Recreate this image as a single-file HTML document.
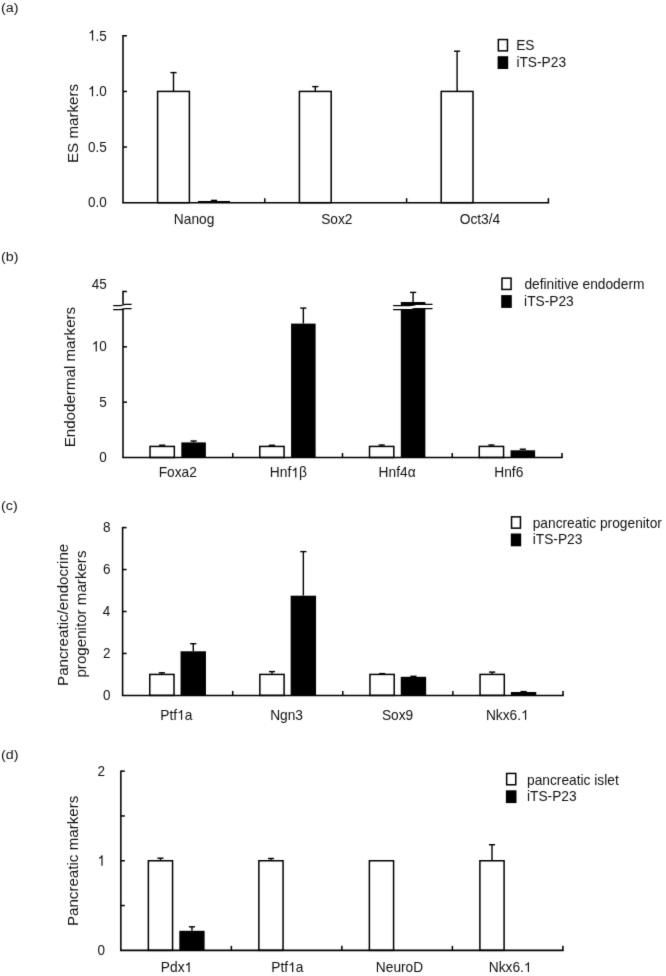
<!DOCTYPE html>
<html><head><meta charset="utf-8"><style>
html,body{margin:0;padding:0;background:#fff;}
svg{display:block;}
#w{will-change:transform;width:666px;height:976px;}
text{font-family:"Liberation Sans", sans-serif;fill:#111;}
line{stroke-linecap:butt;}
</style></head><body>
<div id="w"><svg width="666" height="976" viewBox="0 0 666 976">
<defs><filter id="soft" x="0" y="0" width="666" height="976" filterUnits="userSpaceOnUse" color-interpolation-filters="sRGB"><feConvolveMatrix order="3" kernelMatrix="0.0100 0.0800 0.0100 0.0800 0.6400 0.0800 0.0100 0.0800 0.0100" edgeMode="duplicate"/></filter></defs>
<g filter="url(#soft)"><rect width="666" height="976" fill="#fff"/>
<rect x="157.60" y="91.42" width="31.80" height="111.25" fill="#fff" stroke="#000" stroke-width="1.5"/>
<line x1="173.50" y1="91.42" x2="173.50" y2="72.60" stroke="#000" stroke-width="1.4"/>
<line x1="170.40" y1="72.60" x2="176.60" y2="72.60" stroke="#000" stroke-width="1.4"/>
<rect x="198.00" y="201.00" width="32.00" height="1.67" fill="#000"/>
<line x1="214.00" y1="201.00" x2="214.00" y2="200.40" stroke="#000" stroke-width="1.4"/>
<line x1="210.90" y1="200.40" x2="217.10" y2="200.40" stroke="#000" stroke-width="1.4"/>
<g transform="translate(173.82,224.00)"><text x="0" y="0" font-size="13.75">Nanog</text></g>
<rect x="299.40" y="91.42" width="31.80" height="111.25" fill="#fff" stroke="#000" stroke-width="1.5"/>
<line x1="315.30" y1="91.42" x2="315.30" y2="86.60" stroke="#000" stroke-width="1.4"/>
<line x1="312.20" y1="86.60" x2="318.40" y2="86.60" stroke="#000" stroke-width="1.4"/>
<g transform="translate(321.16,224.00)"><text x="0" y="0" font-size="13.75">Sox2</text></g>
<rect x="441.20" y="91.42" width="31.80" height="111.25" fill="#fff" stroke="#000" stroke-width="1.5"/>
<line x1="457.10" y1="91.42" x2="457.10" y2="51.20" stroke="#000" stroke-width="1.4"/>
<line x1="454.00" y1="51.20" x2="460.20" y2="51.20" stroke="#000" stroke-width="1.4"/>
<g transform="translate(459.72,224.00)"><text x="0" y="0" font-size="13.75">Oct3/4</text></g>
<line x1="123.00" y1="35.04" x2="123.00" y2="202.67" stroke="#000" stroke-width="1.55"/>
<line x1="122.22" y1="202.67" x2="549.17" y2="202.67" stroke="#000" stroke-width="1.55"/>
<line x1="264.80" y1="202.67" x2="264.80" y2="198.17" stroke="#000" stroke-width="1.5"/>
<line x1="406.60" y1="202.67" x2="406.60" y2="198.17" stroke="#000" stroke-width="1.5"/>
<line x1="548.40" y1="202.67" x2="548.40" y2="198.17" stroke="#000" stroke-width="1.55"/>
<line x1="123.00" y1="147.04" x2="127.00" y2="147.04" stroke="#000" stroke-width="1.5"/>
<line x1="123.00" y1="91.42" x2="127.00" y2="91.42" stroke="#000" stroke-width="1.5"/>
<line x1="123.00" y1="35.79" x2="127.00" y2="35.79" stroke="#000" stroke-width="1.5"/>
<g transform="translate(88.10,40.52) scale(1,1.08)"><text x="0" y="0" font-size="13.5"> .5</text><path d="M763,0 L583,0 L583,1147 Q470,1030 223,934 L223,1108 Q470,1230 643,1466 L763,1466 Z" transform="translate(0.000,0) scale(0.00659,-0.00659)" fill="#111"/></g>
<g transform="translate(88.06,96.32) scale(1,1.08)"><text x="0" y="0" font-size="13.5"> .0</text><path d="M763,0 L583,0 L583,1147 Q470,1030 223,934 L223,1108 Q470,1230 643,1466 L763,1466 Z" transform="translate(0.000,0) scale(0.00659,-0.00659)" fill="#111"/></g>
<g transform="translate(88.10,152.12) scale(1,1.08)"><text x="0" y="0" font-size="13.5">0.5</text></g>
<g transform="translate(88.06,207.32) scale(1,1.08)"><text x="0" y="0" font-size="13.5">0.0</text></g>
<g transform="translate(77.60,163.01) rotate(-90)"><text x="0" y="0" font-size="15.15">ES markers</text></g>
<rect x="498.35" y="39.55" width="9.10" height="11.30" fill="#fff" stroke="#000" stroke-width="1.5"/>
<rect x="497.60" y="56.20" width="10.60" height="12.80" fill="#000"/>
<g transform="translate(516.17,50.30)"><text x="0" y="0" font-size="13.75">ES</text></g>
<g transform="translate(516.38,67.00)"><text x="0" y="0" font-size="13.75">iTS-P23</text></g>
<g transform="translate(1.11,11.70) scale(1,0.91)"><text x="0" y="0" font-size="14.3">(a)</text></g>
<rect x="150.03" y="446.43" width="24.30" height="11.07" fill="#fff" stroke="#000" stroke-width="1.5"/>
<line x1="162.18" y1="446.43" x2="162.18" y2="445.20" stroke="#000" stroke-width="1.4"/>
<line x1="159.08" y1="445.20" x2="165.28" y2="445.20" stroke="#000" stroke-width="1.4"/>
<rect x="181.32" y="442.40" width="24.55" height="15.10" fill="#000"/>
<line x1="193.60" y1="442.40" x2="193.60" y2="441.00" stroke="#000" stroke-width="1.4"/>
<line x1="190.50" y1="441.00" x2="196.70" y2="441.00" stroke="#000" stroke-width="1.4"/>
<g transform="translate(158.65,477.40)"><text x="0" y="0" font-size="13.75">Foxa2</text></g>
<rect x="259.77" y="446.43" width="24.30" height="11.07" fill="#fff" stroke="#000" stroke-width="1.5"/>
<line x1="271.93" y1="446.43" x2="271.93" y2="445.30" stroke="#000" stroke-width="1.4"/>
<line x1="268.82" y1="445.30" x2="275.03" y2="445.30" stroke="#000" stroke-width="1.4"/>
<rect x="291.07" y="323.60" width="24.55" height="133.90" fill="#000"/>
<line x1="303.35" y1="323.60" x2="303.35" y2="308.10" stroke="#000" stroke-width="1.4"/>
<line x1="300.25" y1="308.10" x2="306.45" y2="308.10" stroke="#000" stroke-width="1.4"/>
<g transform="translate(269.86,477.40)"><text x="0" y="0" font-size="13.75">Hnf β</text><path d="M763,0 L583,0 L583,1147 Q470,1030 223,934 L223,1108 Q470,1230 643,1466 L763,1466 Z" transform="translate(21.397,0) scale(0.00671,-0.00671)" fill="#111"/></g>
<rect x="369.52" y="446.43" width="24.30" height="11.07" fill="#fff" stroke="#000" stroke-width="1.5"/>
<line x1="381.68" y1="446.43" x2="381.68" y2="445.00" stroke="#000" stroke-width="1.4"/>
<line x1="378.57" y1="445.00" x2="384.78" y2="445.00" stroke="#000" stroke-width="1.4"/>
<rect x="400.82" y="302.00" width="24.55" height="155.50" fill="#000"/>
<g transform="translate(378.61,477.40)"><text x="0" y="0" font-size="13.75">Hnf4α</text></g>
<rect x="479.27" y="446.43" width="24.30" height="11.07" fill="#fff" stroke="#000" stroke-width="1.5"/>
<line x1="491.43" y1="446.43" x2="491.43" y2="445.00" stroke="#000" stroke-width="1.4"/>
<line x1="488.32" y1="445.00" x2="494.53" y2="445.00" stroke="#000" stroke-width="1.4"/>
<rect x="510.57" y="450.30" width="24.55" height="7.20" fill="#000"/>
<line x1="522.85" y1="450.30" x2="522.85" y2="449.20" stroke="#000" stroke-width="1.4"/>
<line x1="519.75" y1="449.20" x2="525.95" y2="449.20" stroke="#000" stroke-width="1.4"/>
<g transform="translate(494.24,477.40)"><text x="0" y="0" font-size="13.75">Hnf6</text></g>
<line x1="123.00" y1="290.75" x2="123.00" y2="304.60" stroke="#000" stroke-width="1.55"/>
<line x1="123.00" y1="308.50" x2="123.00" y2="457.50" stroke="#000" stroke-width="1.55"/>
<line x1="122.22" y1="457.50" x2="562.77" y2="457.50" stroke="#000" stroke-width="1.55"/>
<line x1="232.75" y1="457.50" x2="232.75" y2="453.00" stroke="#000" stroke-width="1.5"/>
<line x1="342.50" y1="457.50" x2="342.50" y2="453.00" stroke="#000" stroke-width="1.5"/>
<line x1="452.25" y1="457.50" x2="452.25" y2="453.00" stroke="#000" stroke-width="1.5"/>
<line x1="562.00" y1="457.50" x2="562.00" y2="453.00" stroke="#000" stroke-width="1.55"/>
<line x1="123.00" y1="402.17" x2="127.00" y2="402.17" stroke="#000" stroke-width="1.5"/>
<line x1="123.00" y1="346.83" x2="127.00" y2="346.83" stroke="#000" stroke-width="1.5"/>
<line x1="123.00" y1="291.50" x2="127.00" y2="291.50" stroke="#000" stroke-width="1.5"/>
<g transform="translate(91.85,289.32) scale(1,1.08)"><text x="0" y="0" font-size="13.5">45</text></g>
<g transform="translate(91.81,351.42) scale(1,1.08)"><text x="0" y="0" font-size="13.5"> 0</text><path d="M763,0 L583,0 L583,1147 Q470,1030 223,934 L223,1108 Q470,1230 643,1466 L763,1466 Z" transform="translate(0.000,0) scale(0.00659,-0.00659)" fill="#111"/></g>
<g transform="translate(99.36,406.92) scale(1,1.08)"><text x="0" y="0" font-size="13.5">5</text></g>
<g transform="translate(99.32,462.32) scale(1,1.08)"><text x="0" y="0" font-size="13.5">0</text></g>
<g transform="translate(74.50,447.35) rotate(-90)"><text x="0" y="0" font-size="15.15">Endodermal markers</text></g>
<rect x="501.95" y="278.15" width="9.10" height="11.30" fill="#fff" stroke="#000" stroke-width="1.5"/>
<rect x="501.20" y="295.10" width="10.60" height="12.80" fill="#000"/>
<g transform="translate(524.42,289.20)"><text x="0" y="0" font-size="13.75">definitive endoderm</text></g>
<g transform="translate(524.08,305.70)"><text x="0" y="0" font-size="13.75">iTS-P23</text></g>
<g transform="translate(1.11,260.80) scale(1,0.91)"><text x="0" y="0" font-size="14.3">(b)</text></g>
<path d="M113.20,307.60 L120.30,307.60 C122.80,307.60 122.80,306.50 125.30,306.50 L131.60,306.50" fill="none" stroke="#fff" stroke-width="3.0"/>
<path d="M113.20,305.55 L120.30,305.55 C122.80,305.55 122.80,304.45 125.30,304.45 L131.60,304.45" fill="none" stroke="#000" stroke-width="1.3"/>
<path d="M113.20,309.65 L120.30,309.65 C122.80,309.65 122.80,308.55 125.30,308.55 L131.60,308.55" fill="none" stroke="#000" stroke-width="1.3"/>
<path d="M393.10,307.60 L409.60,307.60 C413.10,307.60 413.10,306.50 416.60,306.50 L432.50,306.50" fill="none" stroke="#fff" stroke-width="3.0"/>
<path d="M393.10,305.55 L409.60,305.55 C413.10,305.55 413.10,304.45 416.60,304.45 L432.50,304.45" fill="none" stroke="#000" stroke-width="1.3"/>
<path d="M393.10,309.65 L409.60,309.65 C413.10,309.65 413.10,308.55 416.60,308.55 L432.50,308.55" fill="none" stroke="#000" stroke-width="1.3"/>
<line x1="413.10" y1="302.00" x2="413.10" y2="292.40" stroke="#000" stroke-width="1.4"/>
<line x1="410.00" y1="292.40" x2="416.20" y2="292.40" stroke="#000" stroke-width="1.4"/>
<rect x="149.75" y="674.42" width="24.25" height="20.98" fill="#fff" stroke="#000" stroke-width="1.5"/>
<line x1="161.87" y1="674.42" x2="161.87" y2="672.80" stroke="#000" stroke-width="1.4"/>
<line x1="158.77" y1="672.80" x2="164.97" y2="672.80" stroke="#000" stroke-width="1.4"/>
<rect x="180.55" y="651.30" width="25.40" height="44.10" fill="#000"/>
<line x1="193.25" y1="651.30" x2="193.25" y2="643.70" stroke="#000" stroke-width="1.4"/>
<line x1="190.15" y1="643.70" x2="196.35" y2="643.70" stroke="#000" stroke-width="1.4"/>
<g transform="translate(160.23,719.80)"><text x="0" y="0" font-size="13.75">Ptf a</text><path d="M763,0 L583,0 L583,1147 Q470,1030 223,934 L223,1108 Q470,1230 643,1466 L763,1466 Z" transform="translate(16.812,0) scale(0.00671,-0.00671)" fill="#111"/></g>
<rect x="259.85" y="674.42" width="24.25" height="20.98" fill="#fff" stroke="#000" stroke-width="1.5"/>
<line x1="271.98" y1="674.42" x2="271.98" y2="671.60" stroke="#000" stroke-width="1.4"/>
<line x1="268.88" y1="671.60" x2="275.08" y2="671.60" stroke="#000" stroke-width="1.4"/>
<rect x="290.65" y="595.70" width="25.40" height="99.70" fill="#000"/>
<line x1="303.35" y1="595.70" x2="303.35" y2="551.60" stroke="#000" stroke-width="1.4"/>
<line x1="300.25" y1="551.60" x2="306.45" y2="551.60" stroke="#000" stroke-width="1.4"/>
<g transform="translate(270.15,719.80)"><text x="0" y="0" font-size="13.75">Ngn3</text></g>
<rect x="369.95" y="674.42" width="24.25" height="20.98" fill="#fff" stroke="#000" stroke-width="1.5"/>
<line x1="382.08" y1="674.42" x2="382.08" y2="673.60" stroke="#000" stroke-width="1.4"/>
<line x1="378.98" y1="673.60" x2="385.18" y2="673.60" stroke="#000" stroke-width="1.4"/>
<rect x="400.75" y="676.80" width="25.40" height="18.60" fill="#000"/>
<line x1="413.45" y1="676.80" x2="413.45" y2="676.30" stroke="#000" stroke-width="1.4"/>
<line x1="410.35" y1="676.30" x2="416.55" y2="676.30" stroke="#000" stroke-width="1.4"/>
<g transform="translate(381.89,719.80)"><text x="0" y="0" font-size="13.75">Sox9</text></g>
<rect x="480.05" y="674.42" width="24.25" height="20.98" fill="#fff" stroke="#000" stroke-width="1.5"/>
<line x1="492.17" y1="674.42" x2="492.17" y2="672.10" stroke="#000" stroke-width="1.4"/>
<line x1="489.07" y1="672.10" x2="495.27" y2="672.10" stroke="#000" stroke-width="1.4"/>
<rect x="510.85" y="692.00" width="25.40" height="3.40" fill="#000"/>
<line x1="523.55" y1="692.00" x2="523.55" y2="691.60" stroke="#000" stroke-width="1.4"/>
<line x1="520.45" y1="691.60" x2="526.65" y2="691.60" stroke="#000" stroke-width="1.4"/>
<g transform="translate(485.92,719.80)"><text x="0" y="0" font-size="13.75">Nkx6. </text><path d="M763,0 L583,0 L583,1147 Q470,1030 223,934 L223,1108 Q470,1230 643,1466 L763,1466 Z" transform="translate(35.147,0) scale(0.00671,-0.00671)" fill="#111"/></g>
<line x1="122.60" y1="526.85" x2="122.60" y2="695.40" stroke="#000" stroke-width="1.55"/>
<line x1="121.82" y1="695.40" x2="563.77" y2="695.40" stroke="#000" stroke-width="1.55"/>
<line x1="232.70" y1="695.40" x2="232.70" y2="690.90" stroke="#000" stroke-width="1.5"/>
<line x1="342.80" y1="695.40" x2="342.80" y2="690.90" stroke="#000" stroke-width="1.5"/>
<line x1="452.90" y1="695.40" x2="452.90" y2="690.90" stroke="#000" stroke-width="1.5"/>
<line x1="563.00" y1="695.40" x2="563.00" y2="690.90" stroke="#000" stroke-width="1.55"/>
<line x1="122.60" y1="653.45" x2="126.60" y2="653.45" stroke="#000" stroke-width="1.5"/>
<line x1="122.60" y1="611.50" x2="126.60" y2="611.50" stroke="#000" stroke-width="1.5"/>
<line x1="122.60" y1="569.55" x2="126.60" y2="569.55" stroke="#000" stroke-width="1.5"/>
<line x1="122.60" y1="527.60" x2="126.60" y2="527.60" stroke="#000" stroke-width="1.5"/>
<g transform="translate(102.98,532.32) scale(1,1.08)"><text x="0" y="0" font-size="13.5">8</text></g>
<g transform="translate(102.99,574.42) scale(1,1.08)"><text x="0" y="0" font-size="13.5">6</text></g>
<g transform="translate(102.79,616.22) scale(1,1.08)"><text x="0" y="0" font-size="13.5">4</text></g>
<g transform="translate(103.07,658.42) scale(1,1.08)"><text x="0" y="0" font-size="13.5">2</text></g>
<g transform="translate(102.92,700.32) scale(1,1.08)"><text x="0" y="0" font-size="13.5">0</text></g>
<g transform="translate(68.10,685.95) rotate(-90)"><text x="0" y="0" font-size="15.15">Pancreatic/endocrine</text></g>
<g transform="translate(85.80,677.58) rotate(-90)"><text x="0" y="0" font-size="15.15">progenitor markers</text></g>
<rect x="511.55" y="516.85" width="8.90" height="11.30" fill="#fff" stroke="#000" stroke-width="1.5"/>
<rect x="510.80" y="533.50" width="10.40" height="12.80" fill="#000"/>
<g transform="translate(532.71,528.00)"><text x="0" y="0" font-size="13.75">pancreatic progenitor</text></g>
<g transform="translate(532.68,543.90)"><text x="0" y="0" font-size="13.75">iTS-P23</text></g>
<g transform="translate(1.11,509.50) scale(1,0.91)"><text x="0" y="0" font-size="14.3">(c)</text></g>
<rect x="148.36" y="860.75" width="24.20" height="89.60" fill="#fff" stroke="#000" stroke-width="1.5"/>
<line x1="160.46" y1="860.75" x2="160.46" y2="858.20" stroke="#000" stroke-width="1.4"/>
<line x1="157.36" y1="858.20" x2="163.56" y2="858.20" stroke="#000" stroke-width="1.4"/>
<rect x="179.31" y="930.80" width="25.30" height="19.55" fill="#000"/>
<line x1="191.96" y1="930.80" x2="191.96" y2="926.80" stroke="#000" stroke-width="1.4"/>
<line x1="188.86" y1="926.80" x2="195.06" y2="926.80" stroke="#000" stroke-width="1.4"/>
<g transform="translate(160.81,972.00)"><text x="0" y="0" font-size="13.75">Pdx </text><path d="M763,0 L583,0 L583,1147 Q470,1030 223,934 L223,1108 Q470,1230 643,1466 L763,1466 Z" transform="translate(23.693,0) scale(0.00671,-0.00671)" fill="#111"/></g>
<rect x="258.87" y="860.75" width="24.20" height="89.60" fill="#fff" stroke="#000" stroke-width="1.5"/>
<line x1="270.97" y1="860.75" x2="270.97" y2="858.50" stroke="#000" stroke-width="1.4"/>
<line x1="267.87" y1="858.50" x2="274.07" y2="858.50" stroke="#000" stroke-width="1.4"/>
<g transform="translate(271.30,972.00)"><text x="0" y="0" font-size="13.75">Ptf a</text><path d="M763,0 L583,0 L583,1147 Q470,1030 223,934 L223,1108 Q470,1230 643,1466 L763,1466 Z" transform="translate(16.812,0) scale(0.00671,-0.00671)" fill="#111"/></g>
<rect x="369.38" y="860.75" width="24.20" height="89.60" fill="#fff" stroke="#000" stroke-width="1.5"/>
<g transform="translate(375.81,972.00)"><text x="0" y="0" font-size="13.75">NeuroD</text></g>
<rect x="479.89" y="860.75" width="24.20" height="89.60" fill="#fff" stroke="#000" stroke-width="1.5"/>
<line x1="491.99" y1="860.75" x2="491.99" y2="844.70" stroke="#000" stroke-width="1.4"/>
<line x1="488.89" y1="844.70" x2="495.09" y2="844.70" stroke="#000" stroke-width="1.4"/>
<g transform="translate(488.72,972.00)"><text x="0" y="0" font-size="13.75">Nkx6. </text><path d="M763,0 L583,0 L583,1147 Q470,1030 223,934 L223,1108 Q470,1230 643,1466 L763,1466 Z" transform="translate(35.147,0) scale(0.00671,-0.00671)" fill="#111"/></g>
<line x1="120.85" y1="770.40" x2="120.85" y2="950.35" stroke="#000" stroke-width="1.55"/>
<line x1="120.07" y1="950.35" x2="563.67" y2="950.35" stroke="#000" stroke-width="1.55"/>
<line x1="231.36" y1="950.35" x2="231.36" y2="945.85" stroke="#000" stroke-width="1.5"/>
<line x1="341.88" y1="950.35" x2="341.88" y2="945.85" stroke="#000" stroke-width="1.5"/>
<line x1="452.39" y1="950.35" x2="452.39" y2="945.85" stroke="#000" stroke-width="1.5"/>
<line x1="562.90" y1="950.35" x2="562.90" y2="945.85" stroke="#000" stroke-width="1.55"/>
<line x1="120.85" y1="905.55" x2="124.85" y2="905.55" stroke="#000" stroke-width="1.5"/>
<line x1="120.85" y1="860.75" x2="124.85" y2="860.75" stroke="#000" stroke-width="1.5"/>
<line x1="120.85" y1="815.95" x2="124.85" y2="815.95" stroke="#000" stroke-width="1.5"/>
<line x1="120.85" y1="771.15" x2="124.85" y2="771.15" stroke="#000" stroke-width="1.5"/>
<g transform="translate(97.57,776.12) scale(1,1.08)"><text x="0" y="0" font-size="13.5">2</text></g>
<g transform="translate(97.55,865.72) scale(1,1.08)"><text x="0" y="0" font-size="13.5"> </text><path d="M763,0 L583,0 L583,1147 Q470,1030 223,934 L223,1108 Q470,1230 643,1466 L763,1466 Z" transform="translate(0.000,0) scale(0.00659,-0.00659)" fill="#111"/></g>
<g transform="translate(97.42,955.32) scale(1,1.08)"><text x="0" y="0" font-size="13.5">0</text></g>
<g transform="translate(78.00,926.10) rotate(-90)"><text x="0" y="0" font-size="15.15">Pancreatic markers</text></g>
<rect x="506.65" y="773.45" width="9.10" height="11.30" fill="#fff" stroke="#000" stroke-width="1.5"/>
<rect x="505.90" y="790.30" width="10.60" height="12.80" fill="#000"/>
<g transform="translate(527.01,784.80)"><text x="0" y="0" font-size="13.75">pancreatic islet</text></g>
<g transform="translate(526.98,801.40)"><text x="0" y="0" font-size="13.75">iTS-P23</text></g>
<g transform="translate(1.11,758.60) scale(1,0.91)"><text x="0" y="0" font-size="14.3">(d)</text></g></g>
</svg></div>
</body></html>
